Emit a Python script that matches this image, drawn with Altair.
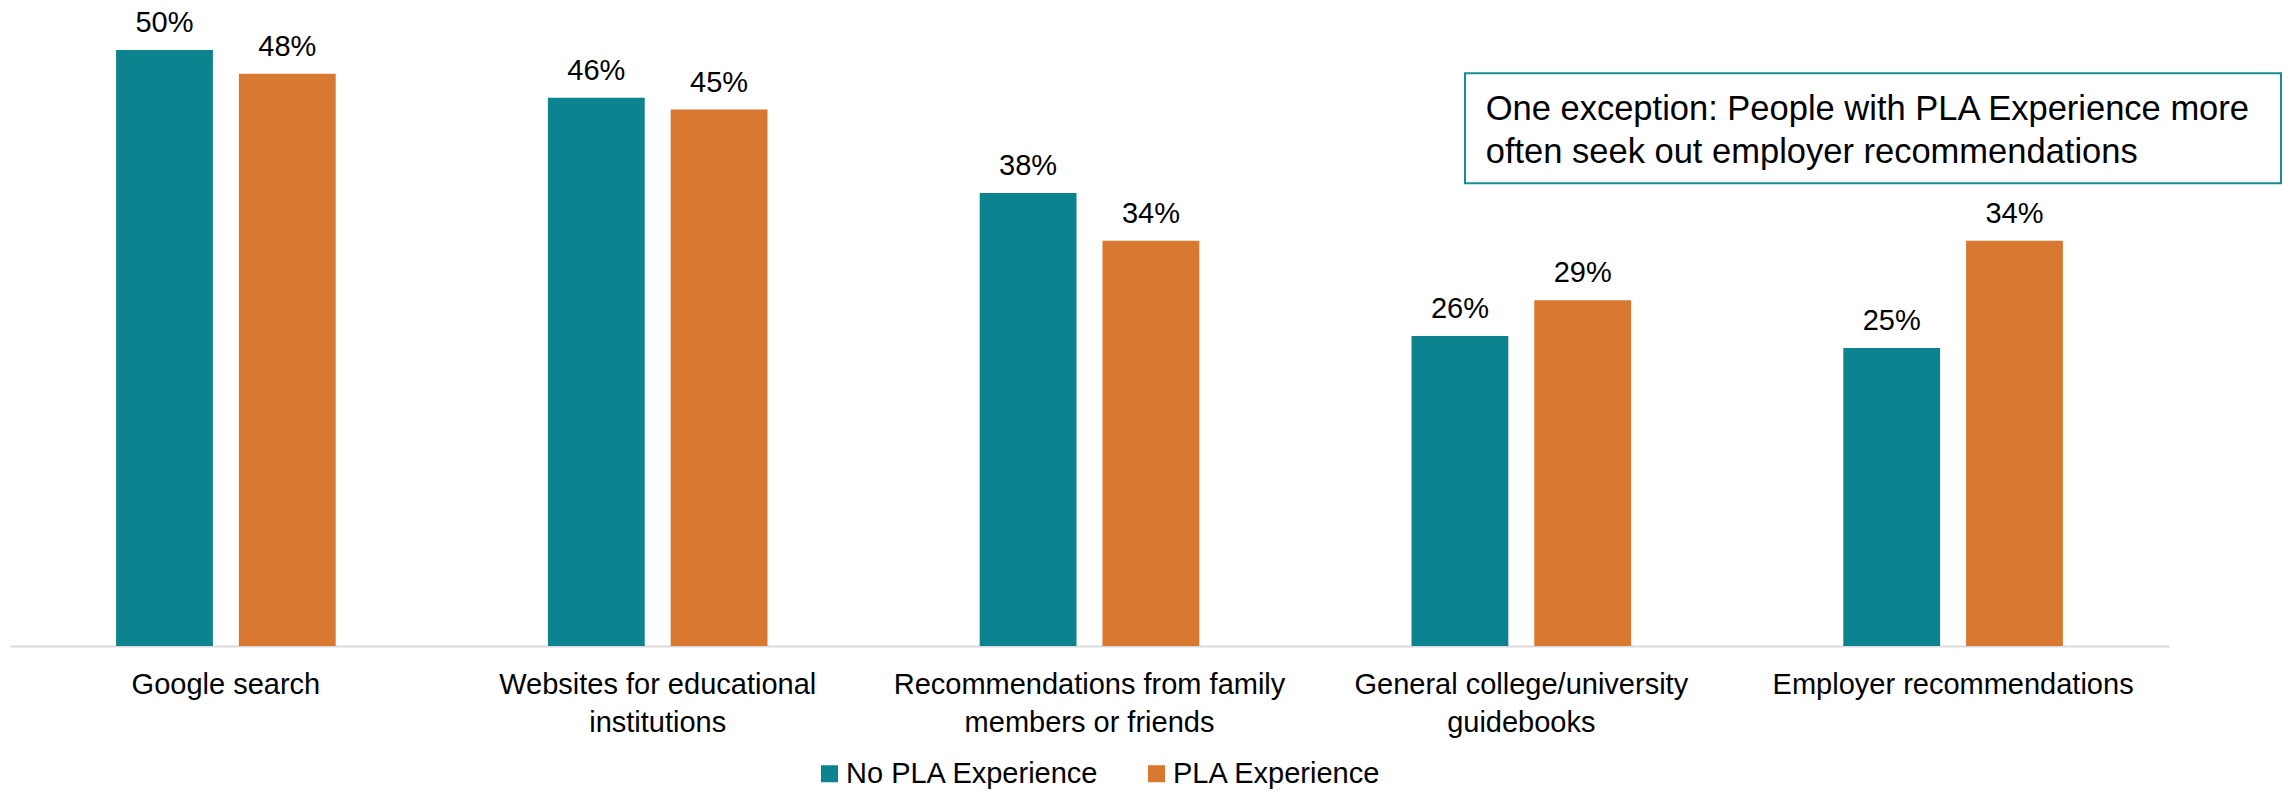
import altair as alt
import pandas as pd

categories = [
    "Google search",
    "Websites for educational institutions",
    "Recommendations from family members or friends",
    "General college/university guidebooks",
    "Employer recommendations",
]
label_lines = [
    ["Google search"],
    ["Websites for educational", "institutions"],
    ["Recommendations from family", "members or friends"],
    ["General college/university", "guidebooks"],
    ["Employer recommendations"],
]
series = ["No PLA Experience", "PLA Experience"]
no_pla = [50, 46, 38, 26, 25]
pla = [48, 45, 34, 29, 34]
colors = ["#0e8390", "#d97831"]
note_lines = [
    "One exception: People with PLA Experience more",
    "often seek out employer recommendations",
]

FONT = "Liberation Sans"

rows = []
for c, a, b in zip(categories, no_pla, pla):
    rows.append({"category": c, "series": series[0], "value": a})
    rows.append({"category": c, "series": series[1], "value": b})
df = pd.DataFrame(rows)

# multi-line axis labels
expr = "[datum.value]"
for cat, lines in zip(categories, label_lines):
    arr = "[" + ", ".join("'" + l + "'" for l in lines) + "]"
    expr = f"datum.value == '{cat}' ? {arr} : ({expr})"

x_enc = alt.X(
    "category:N",
    sort=categories,
    scale=alt.Scale(paddingInner=0, paddingOuter=0),
    axis=alt.Axis(
        title=None, labelAngle=0, ticks=False, tickSize=0, grid=False,
        domainColor="#d9d9d9", domainWidth=2,
        labelFontSize=29, labelColor="black", labelPadding=24,
        labelLimit=0, labelLineHeight=38, labelExpr=expr, labelOverlap=False,
        labelFont=FONT,
    ),
)
y_enc = alt.Y("value:Q", scale=alt.Scale(domain=[0, 53.52], nice=False, zero=True), axis=None)
xoff = alt.XOffset("series:N", sort=series, scale=alt.Scale(paddingInner=0.2114, paddingOuter=0.864))

base = alt.Chart(df).encode(x=x_enc, y=y_enc, xOffset=xoff)

bars = base.mark_bar().encode(
    color=alt.Color(
        "series:N", sort=series,
        scale=alt.Scale(domain=series, range=colors),
        legend=alt.Legend(
            orient="none", legendX=805, legendY=751, direction="horizontal",
            title=None, symbolType="square", symbolSize=289, symbolStrokeWidth=0,
            labelFontSize=29, labelLimit=0, columnPadding=42, labelOffset=2,
            labelColor="black", labelFont=FONT,
        ),
    )
)

pct = base.transform_calculate(lbl="datum.value + '%'").mark_text(
    baseline="alphabetic", dy=-18, fontSize=29, color="black", font=FONT
).encode(text="lbl:N")

box = alt.Chart(pd.DataFrame({"k": [0]})).mark_rect(
    fill="white", stroke="#1b8a95", strokeWidth=2
).encode(
    x=alt.value(1455), x2=alt.value(2271), y=alt.value(65.3), y2=alt.value(175.3)
)

note1 = alt.Chart(pd.DataFrame({"line": [note_lines[0]]})).mark_text(
    align="left", baseline="alphabetic", fontSize=34.5, color="black", font=FONT
).encode(x=alt.value(1475.7), y=alt.value(112), text="line:N")
note2 = alt.Chart(pd.DataFrame({"line": [note_lines[1]]})).mark_text(
    align="left", baseline="alphabetic", fontSize=34.5, color="black", font=FONT
).encode(x=alt.value(1475.7), y=alt.value(155.3), text="line:N")

chart = alt.layer(bars, pct, box, note1, note2).properties(
    width=2159, height=638,
    padding={"left": 2, "top": 0, "right": 113, "bottom": 144},
    autosize=alt.AutoSizeParams(type="none"),
).configure(
    font=FONT,
    view=alt.ViewConfig(strokeWidth=0, stroke="transparent"),
)

chart.save("out.html", embed_options={"renderer": "svg", "actions": False})
